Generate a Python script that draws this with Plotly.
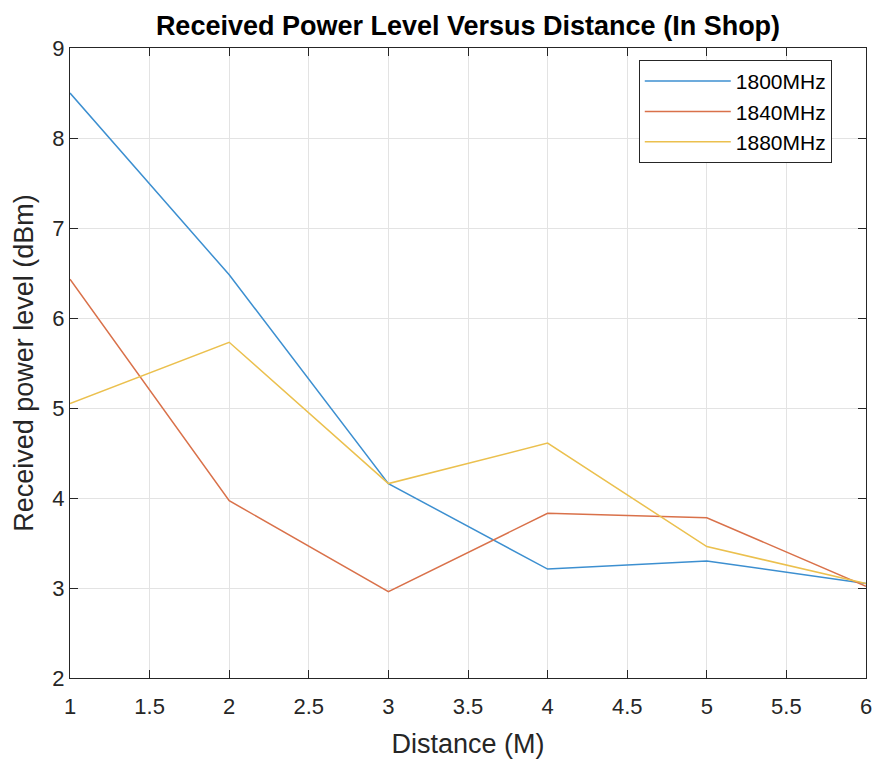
import plotly.graph_objects as go

distance = [1, 2, 3, 4, 5, 6]
p1800 = [8.50, 6.48, 4.16, 3.21, 3.30, 3.05]
p1840 = [6.43, 3.97, 2.96, 3.83, 3.78, 3.02]
p1880 = [5.05, 5.73, 4.16, 4.61, 3.46, 3.05]
series_names = ["1800MHz", "1840MHz", "1880MHz"]
colors = ["#3C8FD0", "#D9714A", "#EBC04E"]

x_ticks = [1, 1.5, 2, 2.5, 3, 3.5, 4, 4.5, 5, 5.5, 6]
x_ticklabels = ["1", "1.5", "2", "2.5", "3", "3.5", "4", "4.5", "5", "5.5", "6"]
y_ticks = [2, 3, 4, 5, 6, 7, 8, 9]

fig = go.Figure()
for name, vals, c in zip(series_names, [p1800, p1840, p1880], colors):
    fig.add_trace(go.Scatter(x=distance, y=vals, mode="lines", name=name,
                             line=dict(color=c, width=1.5)))

font = "Liberation Sans, Arial, sans-serif"
axis_common = dict(showline=True, linecolor="#262626", linewidth=1.2, mirror="ticks",
                   ticks="inside", ticklen=8, tickcolor="#262626", tickwidth=1,
                   showgrid=True, gridcolor="#E3E3E3", gridwidth=1, zeroline=False,
                   automargin=False,
                   tickfont=dict(family=font, size=22, color="#262626"))

W, H = 875, 753
fig.update_layout(
    width=W, height=H,
    margin=dict(l=62, r=17, t=40, b=83),
    paper_bgcolor="white", plot_bgcolor="white",
    title=dict(text="<b>Received Power Level Versus Distance (In Shop)</b>",
               x=0.5, xref="paper", xanchor="center", y=1 - 18 / H, yanchor="middle",
               font=dict(family=font, size=27, color="black")),
    xaxis=dict(range=[1, 6], tickvals=x_ticks, ticktext=x_ticklabels,
               ticklabelstandoff=8,
               title=dict(text="Distance (M)", font=dict(family=font, size=27, color="#262626"), standoff=16),
               **axis_common),
    yaxis=dict(range=[2, 9], tickvals=y_ticks,
               title=dict(text="Received power level (dBm)", font=dict(family=font, size=27, color="#262626"), standoff=10),
               **axis_common),
    legend=dict(x=0.957, y=0.981, xanchor="right", yanchor="top",
                bgcolor="white", bordercolor="#262626", borderwidth=1,
                font=dict(family=font, size=21, color="black"),
                itemwidth=86, tracegroupgap=0),
    showlegend=True,
)

fig.write_html("out.html")
